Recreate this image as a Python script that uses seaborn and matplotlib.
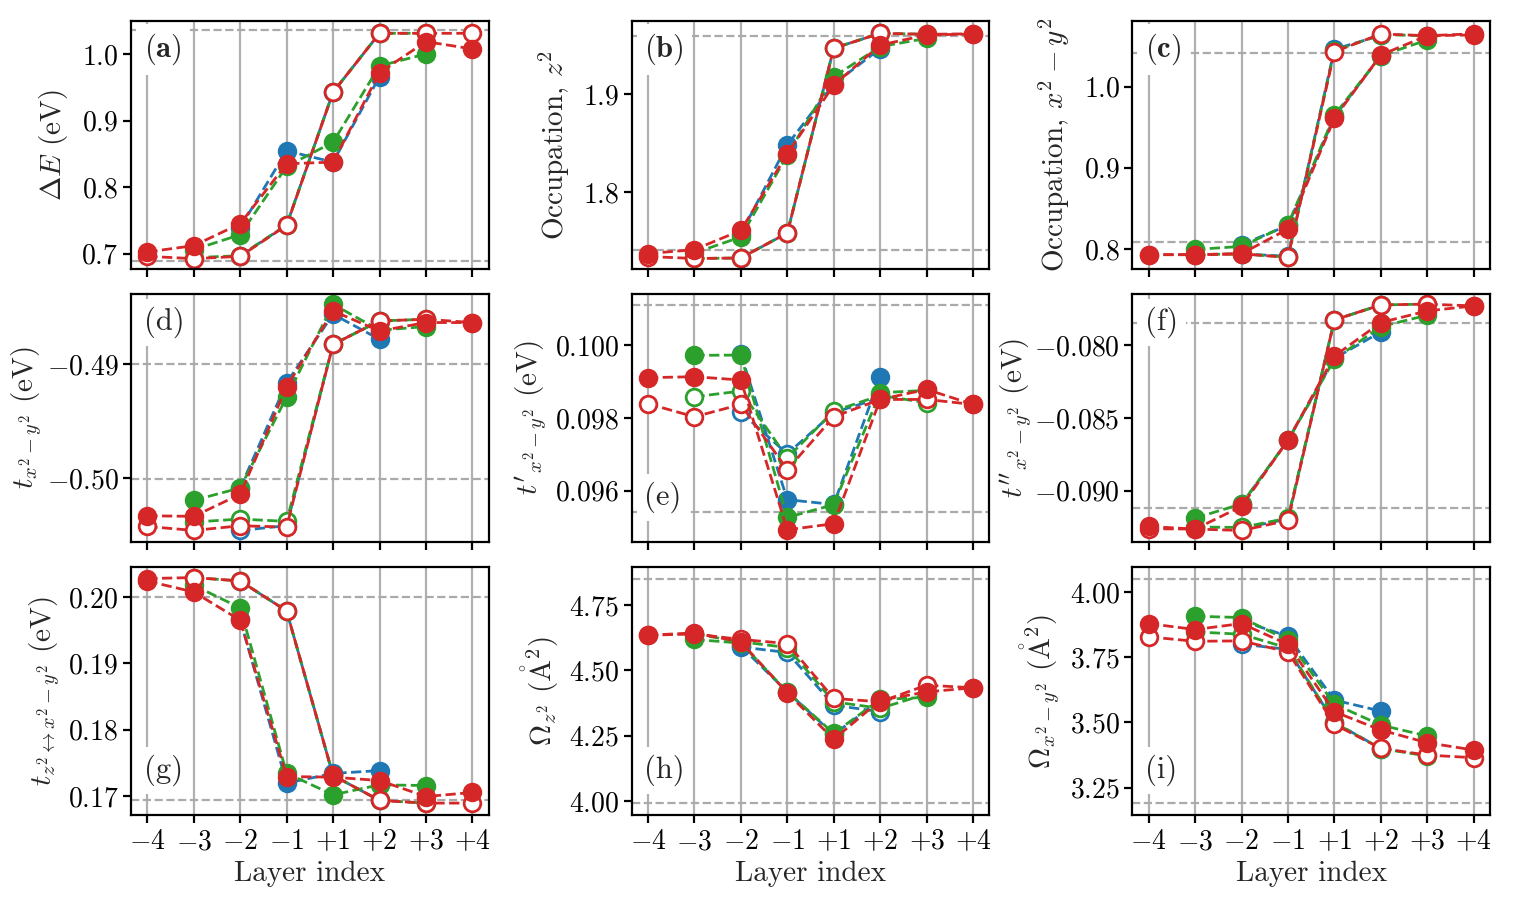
import numpy as np
import matplotlib
matplotlib.use("Agg")
import matplotlib.pyplot as plt
import seaborn as sns

sns.set_theme(style="ticks")
plt.rcParams.update({
    "font.family": "serif",
    "font.serif": ["cmr10", "DejaVu Serif"],
    "mathtext.fontset": "cm",
    "axes.formatter.use_mathtext": True,
    "font.size": 10,
    "axes.labelsize": 10.5,
    "xtick.labelsize": 10,
    "ytick.labelsize": 10,
    "axes.linewidth": 0.8,
    "axes.edgecolor": "black",
    "xtick.color": "black",
    "ytick.color": "black",
    "xtick.major.size": 3.0,
    "ytick.major.size": 3.0,
    "xtick.major.width": 0.8,
    "ytick.major.width": 0.8,
    "ytick.major.pad": 1.5,
    "xtick.major.pad": 2.0,
})

# layer positions: blue stack spans -2..+2, green -3..+3, red -4..+4
layer_labels = ["$-4$", "$-3$", "$-2$", "$-1$", "$+1$", "$+2$", "$+3$", "$+4$"]
blue_idx = [2, 3, 4, 5]
green_idx = [1, 2, 3, 4, 5, 6]
red_idx = [0, 1, 2, 3, 4, 5, 6, 7]

# (a) Delta E
a_blue = [0.739, 0.8545, 0.8375, 0.966]
a_blue_open = [0.697, 0.743, 0.9426, 1.031]
a_green = [0.706, 0.7285, 0.831, 0.8675, 0.982, 1.000]
a_green_open = [0.694, 0.697, 0.743, 0.9426, 1.031, 1.031]
a_red = [0.7026, 0.712, 0.745, 0.835, 0.8375, 0.972, 1.0185, 1.0075]
a_red_open = [0.696, 0.6925, 0.696, 0.7425, 0.9426, 1.031, 1.031, 1.031]

# (b) occupation z2
b_blue = [1.758, 1.8483, 1.910, 1.946]
b_blue_open = [1.7335, 1.7589, 1.9463, 1.9615]
b_green = [1.7386, 1.7548, 1.838, 1.9175, 1.948, 1.9564]
b_green_open = [1.733, 1.7335, 1.7589, 1.9463, 1.9615, 1.9605]
b_red = [1.738, 1.742, 1.7615, 1.8392, 1.909, 1.9496, 1.9598, 1.9608]
b_red_open = [1.735, 1.733, 1.7335, 1.7589, 1.9463, 1.9615, 1.9605, 1.961]

# (c) occupation x2-y2
c_blue = [0.8053, 0.829, 0.963, 1.038]
c_blue_open = [0.794, 0.791, 1.046, 1.063]
c_green = [0.7994, 0.8032, 0.8299, 0.965, 1.038, 1.0575]
c_green_open = [0.793, 0.794, 0.790, 1.044, 1.064, 1.0627]
c_red = [0.793, 0.793, 0.7942, 0.8246, 0.9611, 1.039, 1.0627, 1.0636]
c_red_open = [0.793, 0.793, 0.794, 0.7897, 1.043, 1.0648, 1.0627, 1.065]

# (d) t
d_blue = [-0.5009, -0.49162, -0.48559, -0.48779]
d_blue_open = [-0.50462, -0.5042, -0.48824, -0.48618]
d_green = [-0.50197, -0.50088, -0.49288, -0.48471, -0.4870, -0.48667]
d_green_open = [-0.50388, -0.50362, -0.50382, -0.48824, -0.48618, -0.48603]
d_red = [-0.50333, -0.50338, -0.50144, -0.49197, -0.4853, -0.48706, -0.48632, -0.48632]
d_red_open = [-0.50427, -0.50462, -0.50421, -0.50432, -0.48824, -0.48618, -0.48603, -0.48632]

# (e) t'
e_blue = [0.099752, 0.095752, 0.09562, 0.099136]
e_blue_open = [0.09816, 0.097012, 0.09815, 0.09855]
e_green = [0.099724, 0.09973, 0.095264, 0.095614, 0.098695, 0.09876]
e_green_open = [0.098584, 0.09874, 0.096902, 0.098188, 0.09862, 0.098419]
e_red = [0.099108, 0.099136, 0.099044, 0.094924, 0.095090, 0.098510, 0.098786, 0.098372]
e_red_open = [0.098392, 0.098033, 0.098372, 0.096579, 0.098033, 0.09851, 0.09851, 0.098372]

# (f) t''
f_blue = [-0.09095, -0.086531, -0.0809, -0.07908]
f_blue_open = [-0.0926, -0.09195, -0.078255, -0.077221]
f_green = [-0.091883, -0.090917, -0.086531, -0.080966, -0.07871, -0.07793]
f_green_open = [-0.0925, -0.09253, -0.09189, -0.078255, -0.077221, -0.077172]
f_red = [-0.092462, -0.092644, -0.091083, -0.086531, -0.080738, -0.078434, -0.077634, -0.07729]
f_red_open = [-0.092621, -0.09264, -0.092738, -0.092048, -0.078255, -0.077221, -0.077172, -0.07729]

# (g) t z2 <-> x2-y2
g_blue = [0.1966, 0.17194, 0.1734, 0.17383]
g_blue_open = [0.20241, 0.19789, 0.1731, 0.16933]
g_green = [0.20176, 0.19835, 0.17344, 0.17018, 0.17168, 0.17158]
g_green_open = [0.20292, 0.20241, 0.19789, 0.1731, 0.16933, 0.16893]
g_red = [0.2024, 0.20075, 0.1965, 0.17293, 0.17284, 0.17233, 0.16992, 0.17053]
g_red_open = [0.20277, 0.20292, 0.20241, 0.19789, 0.1731, 0.16933, 0.16893, 0.16893]

# (h) Omega z2
h_blue = [4.593, 4.418, 4.255, 4.386]
h_blue_open = [4.59, 4.569, 4.367, 4.342]
h_green = [4.6188, 4.605, 4.418, 4.259, 4.389, 4.397]
h_green_open = [4.64, 4.61, 4.588, 4.38, 4.355, 4.41]
h_red = [4.6352, 4.644, 4.6096, 4.4144, 4.2361, 4.386, 4.418, 4.4337]
h_red_open = [4.635, 4.64, 4.619, 4.6034, 4.393, 4.38, 4.4439, 4.4337]

# (i) Omega x2-y2
i_blue = [3.89, 3.830, 3.5856, 3.5435]
i_blue_open = [3.80, 3.78, 3.50, 3.40]
i_green = [3.907, 3.902, 3.815, 3.570, 3.49, 3.448]
i_green_open = [3.847, 3.838, 3.785, 3.499, 3.40, 3.3713]
i_red = [3.879, 3.856, 3.879, 3.799, 3.541, 3.4708, 3.4222, 3.3943]
i_red_open = [3.828, 3.811, 3.8126, 3.770, 3.4926, 3.4006, 3.375, 3.3648]

# reference (bulk) levels, dashed gray
ref_lines = {
    "a": [0.6895, 1.0355], "b": [1.7413, 1.9588], "c": [0.8086, 1.041],
    "d": [-0.48995, -0.50005], "e": [0.10110, 0.09540], "f": [-0.078434, -0.091193],
    "g": [0.200, 0.16933], "h": [4.8522, 3.9912], "i": [4.0513, 3.1903],
}

panels = [
    ("a", r"$\Delta E$ (eV)", (a_blue, a_blue_open, a_green, a_green_open, a_red, a_red_open),
     (0.6775, 1.0495), [0.7, 0.8, 0.9, 1.0], "{:.1f}", "top", 4),
    ("b", r"Occupation, $z^2$", (b_blue, b_blue_open, b_green, b_green_open, b_red, b_red_open),
     (1.7227, 1.974), [1.8, 1.9], "{:.1f}", "top", 4),
    ("c", r"Occupation, $x^2-y^2$", (c_blue, c_blue_open, c_green, c_green_open, c_red, c_red_open),
     (0.7758, 1.0808), [0.8, 0.9, 1.0], "{:.1f}", "top", 4),
    ("d", r"$t_{x^2-y^2}$ (eV)", (d_blue, d_blue_open, d_green, d_green_open, d_red, d_red_open),
     (-0.50562, -0.48382), [-0.50, -0.49], "{:.2f}", "top", 1),
    ("e", r"$t'_{x^2-y^2}$ (eV)", (e_blue, e_blue_open, e_green, e_green_open, e_red, e_red_open),
     (0.094593, 0.101407), [0.096, 0.098, 0.100], "{:.3f}", "bottom", 2),
    ("f", r"$t''_{x^2-y^2}$ (eV)", (f_blue, f_blue_open, f_green, f_green_open, f_red, f_red_open),
     (-0.093517, -0.076483), [-0.090, -0.085, -0.080], "{:.3f}", "top", 0),
    ("g", r"$t_{z^2\leftrightarrow x^2-y^2}$ (eV)", (g_blue, g_blue_open, g_green, g_green_open, g_red, g_red_open),
     (0.167143, 0.204466), [0.17, 0.18, 0.19, 0.20], "{:.2f}", "bottom", 2),
    ("h", r"$\Omega_{z^2}$ ($\mathring{\mathrm{A}}^2$)", (h_blue, h_blue_open, h_green, h_green_open, h_red, h_red_open),
     (3.9464, 4.8954), [4.00, 4.25, 4.50, 4.75], "{:.2f}", "bottom", 3),
    ("i", r"$\Omega_{x^2-y^2}$ ($\mathring{\mathrm{A}}^2$)", (i_blue, i_blue_open, i_green, i_green_open, i_red, i_red_open),
     (3.1455, 4.0945), [3.25, 3.50, 3.75, 4.00], "{:.2f}", "bottom", 3),
]

colors = {"blue": "tab:blue", "green": "tab:green", "red": "tab:red"}
index_of = {"blue": blue_idx, "green": green_idx, "red": red_idx}

fig, axes = plt.subplots(3, 3, figsize=(7.565, 4.505), dpi=200, sharex=True)
fig.subplots_adjust(left=0.0866, right=0.9848, top=0.9767, bottom=0.0955, wspace=0.40, hspace=0.103)

for ax, (letter, ylabel, series, ylim, yticks, fmt, label_pos, pad) in zip(axes.flat, panels):
    ax.grid(True, axis="x", color="#b0b0b0", linewidth=0.8)
    ax.set_axisbelow(True)
    for y in ref_lines[letter]:
        ax.axhline(y, color="#aaaaaa", linestyle="--", linewidth=0.8, zorder=1)

    for k, name in enumerate(["blue", "green", "red"]):
        filled, opened = series[2 * k], series[2 * k + 1]
        x = np.array(index_of[name])
        c = colors[name]
        # open symbols first, filled ones on top
        sns.lineplot(x=x, y=opened, ax=ax, color=c, linestyle="--", linewidth=1, marker="o",
                     markersize=6, markerfacecolor="white", markeredgecolor=c,
                     markeredgewidth=1, sort=False)
        sns.lineplot(x=x, y=filled, ax=ax, color=c, linestyle="--", linewidth=1, marker="o",
                     markersize=6, markerfacecolor=c, markeredgecolor=c,
                     markeredgewidth=1, sort=False)

    ax.set_ylim(*ylim)
    ax.set_yticks(yticks)
    ax.set_yticklabels(["$" + fmt.format(t) + "$" for t in yticks])
    ax.set_ylabel(ylabel, labelpad=pad)

    txt = r"$\mathbf{(" + letter + r")}$" if letter in "abc" else "(" + letter + ")"
    ty = 0.885 if label_pos == "top" else 0.18
    ax.text(0.035, ty, txt, transform=ax.transAxes, ha="left", va="center", fontsize=11,
            bbox=dict(boxstyle="square,pad=0.25", facecolor="white", edgecolor="none"), zorder=3)

for ax in axes.flat:
    ax.set_xlim(-0.35, 7.35)
    ax.set_xticks(range(len(layer_labels)))
    ax.set_xlabel("")
for ax in axes[-1]:
    ax.set_xticklabels(layer_labels)
    ax.set_xlabel("Layer index", labelpad=2)
for ax in axes[:-1].flat:
    ax.tick_params(labelbottom=False)

fig.savefig("out.png", dpi=200)
